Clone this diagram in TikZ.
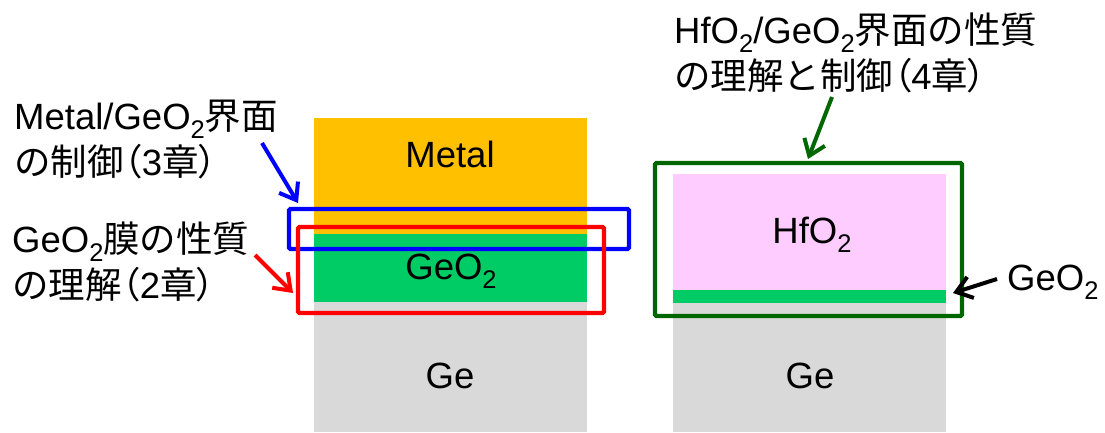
\documentclass[tikz,border=0pt]{standalone}
\usepackage{fontspec}
\setmainfont{Liberation Sans}
\newfontfamily\cjk{Noto Sans CJK JP}
\newfontfamily\cjkp[RawFeature=+palt]{Noto Sans CJK JP}
\usetikzlibrary{arrows.meta}
\definecolor{metalc}{HTML}{FFC000}
\definecolor{geoc}{HTML}{00CC66}
\definecolor{gec}{HTML}{D9D9D9}
\definecolor{hfoc}{HTML}{FFCCFF}
\definecolor{dgreen}{HTML}{006600}
\newcommand\sub[1]{\raisebox{-9.5pt}{\fontsize{25.5}{25.5}\selectfont #1}}
\newcommand\twolines[2]{\vtop{\baselineskip=46pt\hbox{#1}\hbox{#2}}}
\newcommand\lp{{\cjkp （}}
\newcommand\rp{{\cjkp ）}}
\begin{document}
\begin{tikzpicture}[x=1pt,y=-1pt,
  lbl/.style={inner sep=0pt, font=\fontsize{36.5}{46}\selectfont},
  frame/.style={draw, line width=4.3pt, rounded corners=1.5pt, inner sep=0pt, fill=none},
  arr/.style={line width=4pt, -{Straight Barb[length=15pt,width=22pt]}}]
\useasboundingbox (0,0) rectangle (1105,432);
% left stack
\fill[metalc] (314,118) rectangle (587,234);
\fill[geoc] (314,234) rectangle (587,302);
\fill[gec] (314,302) rectangle (587,432);
% right stack
\fill[hfoc] (673,174) rectangle (946,290);
\fill[geoc] (673,290) rectangle (946,303);
\fill[gec] (673,303) rectangle (946,432);
% layer labels
\node[lbl, anchor=base] (tmetal) at (450,167) {Metal};
\node[lbl, anchor=base] (tgeo) at (451,279) {GeO\sub{2}};
\node[lbl, anchor=base] (tge) at (450,388) {Ge};
\node[lbl, anchor=base] (thfo) at (812,243) {HfO\sub{2}};
\node[lbl, anchor=base] (tge2) at (810,388) {Ge};
\node[lbl, anchor=base west] (tgeo2) at (1007,290) {GeO\sub{2}};
% frames
\node[frame, draw=blue, minimum width=340, minimum height=40] (bluebox) at (459,229) {};
\node[frame, draw=red, minimum width=306, minimum height=86] (redbox) at (451,270) {};
\node[frame, draw=dgreen, minimum width=307, minimum height=153] (greenbox) at (808.5,239.5) {};
% annotation labels
\node[lbl, anchor=base west] (l3) at (14,129) {\twolines{Metal/GeO\sub{2}{\cjk 界面}}{{\cjk の制御}\lp 3{\cjk 章}\rp}};
\node[lbl, anchor=base west] (l2) at (12,252) {\twolines{GeO\sub{2}{\cjk 膜の性質}}{{\cjk の理解}\lp 2{\cjk 章}\rp}};
\node[lbl, anchor=base west] (l4) at (674,43) {\twolines{HfO\sub{2}/GeO\sub{2}{\cjk 界面の性質}}{{\cjk の理解と制御}\lp 4{\cjk 章}\rp}};
% arrows
\coordinate (a3s) at (262,143);
\coordinate (a3e) at (298,203);
\coordinate (a2s) at (255,255);
\coordinate (a2e) at (293,293);
\coordinate (a4s) at (832,97);
\coordinate (a4e) at (808,159);
\coordinate (ags) at (997,279);
\coordinate (age) at (953,293);
\draw[arr, blue] (a3s) -- (a3e);
\draw[arr, red] (a2s) -- (a2e);
\draw[arr, dgreen] (a4s) -- (a4e);
\draw[arr, black] (ags) -- (age);
\end{tikzpicture}
\end{document}
